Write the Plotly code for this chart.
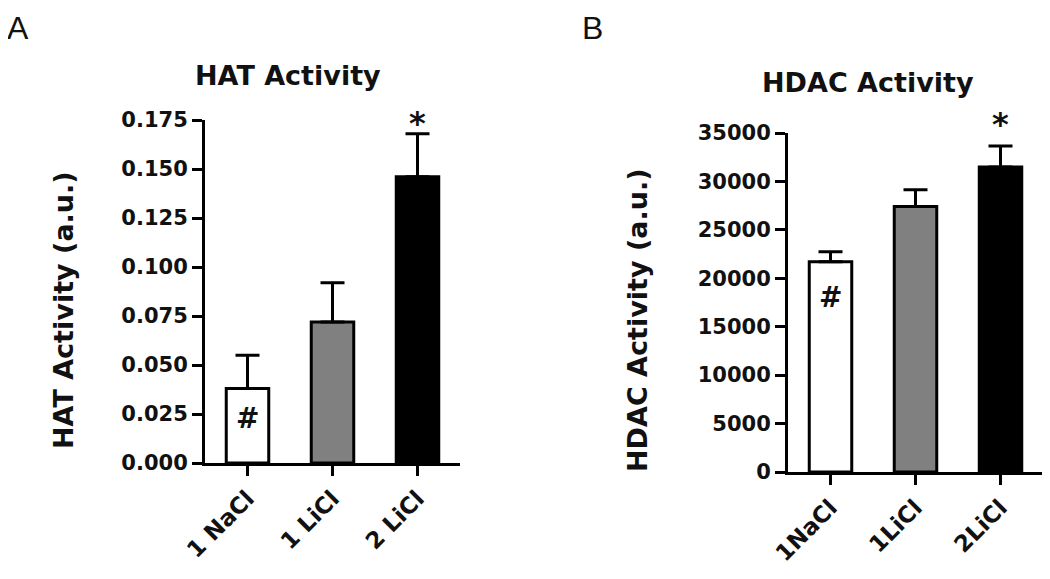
import plotly.graph_objects as go

# ---- data ----
hat_categories = ["1 NaCl", "1 LiCl", "2 LiCl"]
hat_mean = [0.038, 0.072, 0.146]
hat_sem = [0.017, 0.020, 0.022]

hdac_categories = ["1NaCl", "1LiCl", "2LiCl"]
hdac_mean = [21700, 27400, 31500]
hdac_sem = [1030, 1750, 2170]

bar_colors = ["white", "#808080", "black"]
hat_ticks = [0, 0.025, 0.05, 0.075, 0.1, 0.125, 0.15, 0.175]
hdac_ticks = [0, 5000, 10000, 15000, 20000, 25000, 30000, 35000]

OFF = 8  # default page body margin
W, H = 1050 - OFF, 579 - OFF
FONT = "DejaVu Sans"


def px_x(p):
    return (p - OFF) / W


def px_y(p):
    return 1 - (p - OFF) / H


fig = go.Figure()

for cats, means, sems, xa, ya in [
    (hat_categories, hat_mean, hat_sem, "x", "y"),
    (hdac_categories, hdac_mean, hdac_sem, "x2", "y2"),
]:
    fig.add_trace(go.Bar(
        x=cats, y=means, xaxis=xa, yaxis=ya, width=0.5,
        marker=dict(color=bar_colors, line=dict(color="black", width=3)),
        error_y=dict(type="data", array=sems, arrayminus=[0] * len(sems),
                     symmetric=False, color="black", thickness=3, width=12),
        showlegend=False, cliponaxis=False,
    ))

axis_common = dict(showline=True, linecolor="black", linewidth=3, ticks="outside",
                   tickwidth=3, ticklen=10, tickcolor="black", showgrid=False,
                   zeroline=False, automargin=False,
                   tickfont=dict(family=FONT, size=21, color="#111", weight="bold"))
xtickfont = dict(family=FONT, size=23, color="#111", weight="bold")

fig.update_layout(
    width=W, height=H, margin=dict(l=0, r=0, t=0, b=0, autoexpand=False),
    plot_bgcolor="white", paper_bgcolor="white",
    font=dict(family=FONT, color="#111"),
    xaxis=dict(domain=[px_x(205), px_x(460)], anchor="y", range=[-0.5, 2.5],
               tickangle=-45, **{**axis_common, "tickfont": xtickfont}),
    yaxis=dict(domain=[px_y(463), px_y(120)], anchor="x", range=[0, 0.175],
               tickvals=hat_ticks, tickformat=".3f", **axis_common),
    xaxis2=dict(domain=[px_x(788), px_x(1043)], anchor="y2", range=[-0.5, 2.5],
                tickangle=-45, **{**axis_common, "tickfont": xtickfont}),
    yaxis2=dict(domain=[px_y(472), px_y(133)], anchor="x2", range=[0, 35000],
                tickvals=hdac_ticks, tickformat="d", **axis_common),
)


def pann(text, x, y, size, family=FONT, angle=0, yanchor="middle"):
    return dict(text=text, x=px_x(x), y=px_y(y), xref="paper", yref="paper",
                xanchor="center", yanchor=yanchor, showarrow=False, textangle=angle,
                font=dict(family=family, size=size, color="#111"))


ann = [
    pann("A", 18, 8, 32, family="Liberation Sans", yanchor="top"),
    pann("B", 592, 8, 32, family="Liberation Sans", yanchor="top"),
    pann("<b>HAT Activity</b>", 288, 75, 27),
    pann("<b>HDAC Activity</b>", 868, 82, 27),
    pann("<b>HAT Activity (a.u.)</b>", 63, 310, 27, angle=-90),
    pann("<b>HDAC Activity (a.u.)</b>", 638, 320, 27, angle=-90),
]
# significance markers
ann.append(dict(text="<b>#</b>", x=hat_categories[0], y=hat_mean[0] * 0.6, xref="x", yref="y",
                showarrow=False, font=dict(family=FONT, size=28, color="#111")))
ann.append(dict(text="<b>#</b>", x=hdac_categories[0], y=hdac_mean[0] * 0.83, xref="x2", yref="y2",
                showarrow=False, font=dict(family=FONT, size=28, color="#111")))
ann.append(dict(text="<b>*</b>", x=hat_categories[2], y=hat_mean[2] + hat_sem[2], xref="x", yref="y",
                yanchor="bottom", yshift=-10, showarrow=False, font=dict(family=FONT, size=32, color="#111")))
ann.append(dict(text="<b>*</b>", x=hdac_categories[2], y=hdac_mean[2] + hdac_sem[2], xref="x2", yref="y2",
                yanchor="bottom", yshift=1, showarrow=False, font=dict(family=FONT, size=32, color="#111")))
fig.update_layout(annotations=ann)

fig.write_html("out.html")
